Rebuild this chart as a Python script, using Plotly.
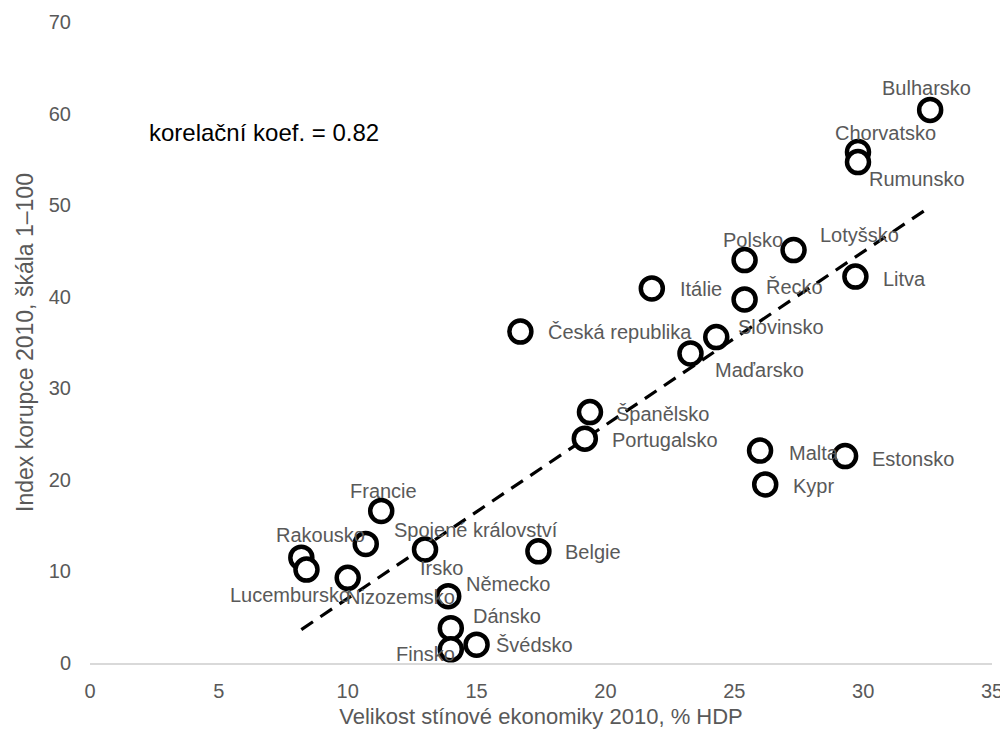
import numpy as np
import plotly.graph_objects as go

countries = ["Bulharsko", "Chorvatsko", "Rumunsko", "Lotyšsko", "Polsko", "Litva", "Řecko",
             "Itálie", "Česká republika", "Slovinsko", "Maďarsko", "Španělsko", "Portugalsko",
             "Malta", "Estonsko", "Kypr", "Francie", "Spojené království", "Irsko", "Belgie",
             "Rakousko", "Lucembursko", "Nizozemsko", "Německo", "Dánsko", "Švédsko", "Finsko"]
shadow_economy = [32.6, 29.8, 29.8, 27.3, 25.4, 29.7, 25.4,
                  21.8, 16.7, 24.3, 23.3, 19.4, 19.2,
                  26.0, 29.3, 26.2, 11.3, 10.7, 13.0, 17.4,
                  8.2, 8.4, 10.0, 13.9, 14.0, 15.0, 14.0]
corruption_index = [60.4, 55.8, 54.7, 45.1, 44.0, 42.2, 39.7,
                    40.9, 36.2, 35.6, 33.8, 27.4, 24.5,
                    23.2, 22.6, 19.5, 16.6, 13.0, 12.4, 12.2,
                    11.5, 10.2, 9.3, 7.3, 3.8, 2.0, 1.5]
# label offsets in pixels (dx right, dy down) relative to each point
label_dx = [-4, 28, 59, 66, 8, 49, 50, 49, 100, 65, 69, 73, 80, 54, 68, 48, 2, 110, 16, 55, 19, -16, 53, 60, 56, 58, -25]
label_dy = [-22, -19, 17, -15, -20, 2, -12, 1, 0, -10, 17, 2, 1, 2, 3, 2, -20, -14, 19, 1, -23, 25, 19, -12, -12, 0, 5]

corr_text = "korelační koef. = 0.82"
x_title = "Velikost stínové ekonomiky 2010, % HDP"
y_title = "Index korupce 2010, škála 1–100"

FONT = "Liberation Sans, Arial, sans-serif"
GRAY = "#595959"

xs = np.array(shadow_economy)
ys = np.array(corruption_index)
slope, intercept = np.polyfit(xs, ys, 1)
trend_x = [xs.min(), xs.max()]
trend_y = [slope * v + intercept for v in trend_x]

fig = go.Figure()
fig.add_trace(go.Scatter(x=trend_x, y=trend_y, mode="lines",
                         line=dict(color="black", width=3.2, dash="14px,9px"),
                         hoverinfo="skip", showlegend=False))
fig.add_trace(go.Scatter(x=shadow_economy, y=corruption_index, mode="markers",
                         marker=dict(size=22, color="white", line=dict(color="black", width=4.5)),
                         text=countries, showlegend=False))

for name, x, y, dx, dy in zip(countries, shadow_economy, corruption_index, label_dx, label_dy):
    fig.add_annotation(x=x, y=y, text=name, showarrow=False, xshift=dx, yshift=-dy,
                       font=dict(family=FONT, size=20, color=GRAY))

fig.add_annotation(xref="paper", yref="paper", x=0.063, y=0.827, xanchor="left", yanchor="middle",
                   text=corr_text, showarrow=False,
                   font=dict(family=FONT, size=24, color="black"))

# page body adds an 8px offset; size the figure so the plot area lands where the reference has it
fig.update_layout(
    width=1000, height=736,
    margin=dict(l=82, r=16, t=14, b=81),
    paper_bgcolor="white", plot_bgcolor="white",
    font=dict(family=FONT, color=GRAY),
)
fig.update_xaxes(range=[0, 35], tickvals=[0, 5, 10, 15, 20, 25, 30, 35], showgrid=False,
                 zeroline=False, showline=True, linecolor="#d9d9d9", linewidth=1.5,
                 automargin=False, ticks="", ticklabelstandoff=9,
                 tickfont=dict(size=20, color=GRAY),
                 title=dict(text=x_title, font=dict(size=22, color=GRAY), standoff=8))
fig.update_yaxes(range=[0, 70], tickvals=[0, 10, 20, 30, 40, 50, 60, 70], showgrid=False,
                 zeroline=False, showline=False, automargin=False, ticks="", ticklabelstandoff=18,
                 tickfont=dict(size=20, color=GRAY),
                 title=dict(text=y_title, font=dict(size=23, color=GRAY), standoff=8))

fig.write_html("out.html")
